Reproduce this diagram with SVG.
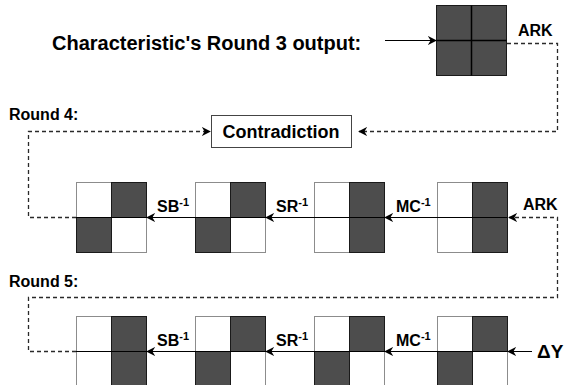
<svg xmlns="http://www.w3.org/2000/svg" width="565" height="385" viewBox="0 0 565 385">
<style>
text{font-family:"Liberation Sans",Arial,sans-serif;font-weight:bold;fill:#000}
.w{fill:#fff;stroke:#8c8c8c;stroke-width:1}
.d{fill:#4d4d4d;stroke:#1a1a1a;stroke-width:1}
.ln{fill:none;stroke:#000;stroke-width:1}
.ds{fill:none;stroke:#2a2a2a;stroke-width:1.3;stroke-dasharray:4 3}
.lbl{font-size:16px}
.sup{font-size:11px}
</style>
<defs>
<marker id="ah" viewBox="0 0 10 10" refX="9" refY="5" markerWidth="9" markerHeight="9" markerUnits="userSpaceOnUse" orient="auto">
<path d="M0,0 L10,5 L0,10 L3,5 z" fill="#000"/>
</marker>
</defs>
<rect width="565" height="385" fill="#fff"/>

<text x="52" y="50" font-size="20">Characteristic's Round 3 output:</text>
<text x="518" y="36" class="lbl">ARK</text>
<text x="9" y="120" class="lbl">Round 4:</text>
<text x="9" y="287" class="lbl">Round 5:</text>

<g id="top-grid">
<rect class="d" x="436.5" y="5.5" width="35" height="35"/>
<rect class="d" x="471.5" y="5.5" width="35" height="35"/>
<rect class="d" x="436.5" y="40.5" width="35" height="35"/>
<rect class="d" x="471.5" y="40.5" width="35" height="35"/>
<path d="M436.5,40.5 H506.5 M471.5,5.5 V75.5" stroke="#000" stroke-width="1.5"/>
</g>

<g id="contradiction">
<rect x="211.5" y="115.5" width="140" height="32" fill="#fff" stroke="#444" stroke-width="1"/>
<text x="281" y="138" font-size="18" text-anchor="middle">Contradiction</text>
</g>

<!-- Round 4 grids -->
<g id="r4-g1">
<rect class="w" x="76.5" y="182.5" width="35" height="35"/>
<rect class="w" x="111.5" y="217.5" width="35" height="35"/>
<rect class="d" x="111.5" y="182.5" width="35" height="35"/>
<rect class="d" x="76.5" y="217.5" width="35" height="35"/>
</g>
<g id="r4-g2">
<rect class="w" x="195.5" y="182.5" width="35" height="35"/>
<rect class="w" x="230.5" y="217.5" width="35" height="35"/>
<rect class="d" x="230.5" y="182.5" width="35" height="35"/>
<rect class="d" x="195.5" y="217.5" width="35" height="35"/>
</g>
<g id="r4-g3">
<rect class="w" x="314.5" y="182.5" width="35" height="35"/>
<rect class="w" x="314.5" y="217.5" width="35" height="35"/>
<rect class="d" x="349.5" y="182.5" width="35" height="35"/>
<rect class="d" x="349.5" y="217.5" width="35" height="35"/>
</g>
<g id="r4-g4">
<rect class="w" x="437.5" y="182.5" width="35" height="35"/>
<rect class="w" x="437.5" y="217.5" width="35" height="35"/>
<rect class="d" x="472.5" y="182.5" width="35" height="35"/>
<rect class="d" x="472.5" y="217.5" width="35" height="35"/>
</g>

<!-- Round 5 grids -->
<g id="r5-g1">
<rect class="w" x="76.5" y="316.5" width="35" height="35"/>
<rect class="w" x="76.5" y="351.5" width="35" height="35"/>
<rect class="d" x="111.5" y="316.5" width="35" height="35"/>
<rect class="d" x="111.5" y="351.5" width="35" height="35"/>
</g>
<g id="r5-g2">
<rect class="w" x="195.5" y="316.5" width="35" height="35"/>
<rect class="w" x="230.5" y="351.5" width="35" height="35"/>
<rect class="d" x="230.5" y="316.5" width="35" height="35"/>
<rect class="d" x="195.5" y="351.5" width="35" height="35"/>
</g>
<g id="r5-g3">
<rect class="w" x="314.5" y="316.5" width="35" height="35"/>
<rect class="w" x="349.5" y="351.5" width="35" height="35"/>
<rect class="d" x="349.5" y="316.5" width="35" height="35"/>
<rect class="d" x="314.5" y="351.5" width="35" height="35"/>
</g>
<g id="r5-g4">
<rect class="w" x="437.5" y="316.5" width="35" height="35"/>
<rect class="w" x="472.5" y="351.5" width="35" height="35"/>
<rect class="d" x="472.5" y="316.5" width="35" height="35"/>
<rect class="d" x="437.5" y="351.5" width="35" height="35"/>
</g>

<g id="connectors">
<line class="ln" x1="385" y1="40.5" x2="436" y2="40.5" marker-end="url(#ah)"/>
<path class="ds" d="M507,43.5 H557.5 V131.5 H359" marker-end="url(#ah)"/>
<path class="ds" d="M76,217.5 H28.5 V131.5 H210" marker-end="url(#ah)"/>
<line class="ln" x1="76" y1="217.5" x2="507" y2="217.5"/>
<line class="ln" x1="437" y1="217.5" x2="385" y2="217.5" marker-end="url(#ah)"/>
<line class="ln" x1="314" y1="217.5" x2="266" y2="217.5" marker-end="url(#ah)"/>
<line class="ln" x1="195" y1="217.5" x2="147" y2="217.5" marker-end="url(#ah)"/>
<path class="ds" d="M76,351.5 H28.5 V297.5 H557.5 V217.5 H509" marker-end="url(#ah)"/>
<line class="ln" x1="76" y1="351.5" x2="507" y2="351.5"/>
<line class="ln" x1="532" y1="351.5" x2="508" y2="351.5" marker-end="url(#ah)"/>
<line class="ln" x1="437" y1="351.5" x2="385" y2="351.5" marker-end="url(#ah)"/>
<line class="ln" x1="314" y1="351.5" x2="266" y2="351.5" marker-end="url(#ah)"/>
<line class="ln" x1="195" y1="351.5" x2="147" y2="351.5" marker-end="url(#ah)"/>
</g>

<g id="labels">
<text x="157" y="212" class="lbl">SB<tspan class="sup" dy="-6">-1</tspan></text>
<text x="276" y="212" class="lbl">SR<tspan class="sup" dy="-6">-1</tspan></text>
<text x="396" y="212" class="lbl">MC<tspan class="sup" dy="-6">-1</tspan></text>
<text x="523" y="210" class="lbl">ARK</text>
<text x="157" y="346" class="lbl">SB<tspan class="sup" dy="-6">-1</tspan></text>
<text x="276" y="346" class="lbl">SR<tspan class="sup" dy="-6">-1</tspan></text>
<text x="396" y="346" class="lbl">MC<tspan class="sup" dy="-6">-1</tspan></text>
<text x="537" y="358" font-size="19">ΔY</text>
</g>
</svg>
